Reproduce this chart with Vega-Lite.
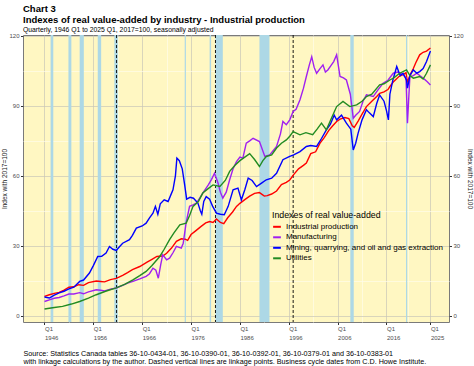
{
  "$schema": "https://vega.github.io/schema/vega-lite/v6.json",
  "width": 426,
  "height": 287,
  "autosize": {"type": "none"},
  "padding": {"left": 23, "top": 35, "right": 25, "bottom": 44},
  "background": "white",
  "config": {
    "font": "Liberation Sans",
    "view": {"fill": "#FFF7C2", "stroke": "#7a7a7a", "strokeWidth": 1}
  },
  "title": {
    "text": ["Chart 3", "Indexes of real value-added by industry - Industrial production"],
    "subtitle": "Quarterly, 1946 Q1 to 2025 Q1, 2017=100, seasonally adjusted",
    "anchor": "start",
    "frame": "group",
    "fontSize": 9.5,
    "fontWeight": "bold",
    "lineHeight": 11,
    "color": "black",
    "subtitleFontSize": 6.8,
    "subtitleColor": "black",
    "subtitlePadding": 3,
    "offset": -1
  },
  "datasets": {
    "bands": [
      {"t": 1947.25, "t2": 1947.8}, {"t": 1950.9, "t2": 1951.5}, {"t": 1953.2, "t2": 1954.05},
      {"t": 1956.9, "t2": 1957.6}, {"t": 1960.3, "t2": 1961.0}, {"t": 1974.7, "t2": 1974.95},
      {"t": 1979.8, "t2": 1980.1}, {"t": 1981.0, "t2": 1982.5}, {"t": 1990.0, "t2": 1992.05},
      {"t": 2008.6, "t2": 2009.3}, {"t": 2020.0, "t2": 2020.25}
    ],
    "links": [{"t": 1960.75}, {"t": 1981.0}, {"t": 1996.9}],
    "series": [
      {"t":1946.0,"s":"IP","v":8.3},{"t":1947.0,"s":"IP","v":9.0},{"t":1948.0,"s":"IP","v":9.6},{"t":1949.0,"s":"IP","v":10.0},{"t":1950.0,"s":"IP","v":11.0},{"t":1951.0,"s":"IP","v":12.2},{"t":1952.0,"s":"IP","v":12.4},{"t":1953.0,"s":"IP","v":13.3},{"t":1954.0,"s":"IP","v":13.0},{"t":1955.0,"s":"IP","v":14.2},{"t":1956.6,"s":"IP","v":14.9},{"t":1957.5,"s":"IP","v":14.7},{"t":1958.3,"s":"IP","v":14.5},{"t":1959.5,"s":"IP","v":15.5},{"t":1960.7,"s":"IP","v":16.0},{"t":1962.0,"s":"IP","v":17.3},{"t":1963.0,"s":"IP","v":18.5},{"t":1964.0,"s":"IP","v":19.8},{"t":1965.5,"s":"IP","v":21.1},{"t":1967.0,"s":"IP","v":23.0},{"t":1968.0,"s":"IP","v":24.2},{"t":1969.0,"s":"IP","v":25.4},{"t":1970.2,"s":"IP","v":25.6},{"t":1971.0,"s":"IP","v":26.8},{"t":1972.0,"s":"IP","v":29.0},{"t":1973.0,"s":"IP","v":31.9},{"t":1974.0,"s":"IP","v":33.0},{"t":1974.8,"s":"IP","v":32.8},{"t":1975.3,"s":"IP","v":32.3},{"t":1976.0,"s":"IP","v":34.8},{"t":1977.0,"s":"IP","v":36.5},{"t":1978.0,"s":"IP","v":38.2},{"t":1979.0,"s":"IP","v":39.8},{"t":1979.8,"s":"IP","v":40.4},{"t":1980.5,"s":"IP","v":40.0},{"t":1981.2,"s":"IP","v":41.5},{"t":1982.0,"s":"IP","v":40.0},{"t":1982.7,"s":"IP","v":39.5},{"t":1983.5,"s":"IP","v":42.0},{"t":1984.5,"s":"IP","v":44.5},{"t":1985.3,"s":"IP","v":46.9},{"t":1986.0,"s":"IP","v":48.2},{"t":1987.0,"s":"IP","v":49.8},{"t":1988.0,"s":"IP","v":51.3},{"t":1989.0,"s":"IP","v":52.5},{"t":1990.0,"s":"IP","v":52.8},{"t":1991.0,"s":"IP","v":51.3},{"t":1991.6,"s":"IP","v":51.5},{"t":1992.5,"s":"IP","v":52.2},{"t":1993.5,"s":"IP","v":53.5},{"t":1994.5,"s":"IP","v":56.2},{"t":1995.5,"s":"IP","v":57.2},{"t":1996.2,"s":"IP","v":58.2},{"t":1997.0,"s":"IP","v":60.5},{"t":1998.0,"s":"IP","v":63.0},{"t":1999.0,"s":"IP","v":64.5},{"t":1999.6,"s":"IP","v":65.5},{"t":2000.5,"s":"IP","v":69.5},{"t":2001.5,"s":"IP","v":70.3},{"t":2002.4,"s":"IP","v":74.0},{"t":2003.3,"s":"IP","v":76.5},{"t":2004.2,"s":"IP","v":79.5},{"t":2005.0,"s":"IP","v":81.5},{"t":2005.8,"s":"IP","v":83.3},{"t":2006.5,"s":"IP","v":84.3},{"t":2007.5,"s":"IP","v":85.0},{"t":2008.3,"s":"IP","v":84.5},{"t":2009.0,"s":"IP","v":81.5},{"t":2009.4,"s":"IP","v":80.8},{"t":2010.2,"s":"IP","v":83.5},{"t":2011.0,"s":"IP","v":86.5},{"t":2011.9,"s":"IP","v":89.7},{"t":2013.0,"s":"IP","v":92.0},{"t":2014.0,"s":"IP","v":94.0},{"t":2014.6,"s":"IP","v":95.4},{"t":2015.5,"s":"IP","v":96.0},{"t":2016.3,"s":"IP","v":97.0},{"t":2016.7,"s":"IP","v":98.3},{"t":2017.5,"s":"IP","v":100.5},{"t":2018.5,"s":"IP","v":102.5},{"t":2019.5,"s":"IP","v":103.5},{"t":2020.0,"s":"IP","v":104.2},{"t":2020.3,"s":"IP","v":100.0},{"t":2020.6,"s":"IP","v":102.0},{"t":2021.0,"s":"IP","v":104.0},{"t":2021.5,"s":"IP","v":106.0},{"t":2022.0,"s":"IP","v":108.5},{"t":2022.8,"s":"IP","v":111.9},{"t":2023.5,"s":"IP","v":113.0},{"t":2024.2,"s":"IP","v":113.5},{"t":2025.0,"s":"IP","v":114.8},

      {"t":1946.0,"s":"MFG","v":6.1},{"t":1947.0,"s":"MFG","v":6.8},{"t":1948.0,"s":"MFG","v":7.5},{"t":1949.0,"s":"MFG","v":7.8},{"t":1950.0,"s":"MFG","v":8.5},{"t":1951.0,"s":"MFG","v":9.3},{"t":1952.0,"s":"MFG","v":9.3},{"t":1953.2,"s":"MFG","v":9.9},{"t":1954.0,"s":"MFG","v":9.4},{"t":1955.0,"s":"MFG","v":10.2},{"t":1956.6,"s":"MFG","v":11.1},{"t":1957.5,"s":"MFG","v":10.9},{"t":1958.3,"s":"MFG","v":10.6},{"t":1959.5,"s":"MFG","v":11.4},{"t":1960.7,"s":"MFG","v":11.9},{"t":1962.0,"s":"MFG","v":13.0},{"t":1963.0,"s":"MFG","v":14.0},{"t":1964.1,"s":"MFG","v":14.7},{"t":1965.5,"s":"MFG","v":15.8},{"t":1966.8,"s":"MFG","v":16.9},{"t":1967.5,"s":"MFG","v":18.0},{"t":1968.2,"s":"MFG","v":20.4},{"t":1968.8,"s":"MFG","v":19.5},{"t":1969.3,"s":"MFG","v":16.1},{"t":1969.8,"s":"MFG","v":22.0},{"t":1970.2,"s":"MFG","v":26.1},{"t":1971.0,"s":"MFG","v":24.0},{"t":1971.6,"s":"MFG","v":24.7},{"t":1972.3,"s":"MFG","v":27.0},{"t":1973.0,"s":"MFG","v":29.7},{"t":1974.0,"s":"MFG","v":29.0},{"t":1974.4,"s":"MFG","v":31.1},{"t":1975.0,"s":"MFG","v":40.0},{"t":1975.7,"s":"MFG","v":46.9},{"t":1976.4,"s":"MFG","v":47.5},{"t":1977.1,"s":"MFG","v":48.3},{"t":1977.8,"s":"MFG","v":50.5},{"t":1978.4,"s":"MFG","v":52.6},{"t":1979.5,"s":"MFG","v":56.0},{"t":1980.2,"s":"MFG","v":58.5},{"t":1980.8,"s":"MFG","v":61.1},{"t":1981.5,"s":"MFG","v":57.0},{"t":1982.0,"s":"MFG","v":53.0},{"t":1982.5,"s":"MFG","v":50.4},{"t":1983.2,"s":"MFG","v":53.0},{"t":1983.9,"s":"MFG","v":58.3},{"t":1984.6,"s":"MFG","v":63.0},{"t":1985.3,"s":"MFG","v":66.1},{"t":1986.0,"s":"MFG","v":68.0},{"t":1986.6,"s":"MFG","v":67.6},{"t":1987.3,"s":"MFG","v":74.0},{"t":1988.0,"s":"MFG","v":75.0},{"t":1988.7,"s":"MFG","v":76.1},{"t":1990.0,"s":"MFG","v":74.7},{"t":1991.1,"s":"MFG","v":68.3},{"t":1992.1,"s":"MFG","v":69.0},{"t":1993.5,"s":"MFG","v":72.6},{"t":1994.3,"s":"MFG","v":78.0},{"t":1994.8,"s":"MFG","v":83.3},{"t":1995.5,"s":"MFG","v":81.9},{"t":1996.2,"s":"MFG","v":84.0},{"t":1996.9,"s":"MFG","v":87.6},{"t":1997.5,"s":"MFG","v":88.5},{"t":1998.3,"s":"MFG","v":92.6},{"t":1999.0,"s":"MFG","v":97.5},{"t":1999.6,"s":"MFG","v":102.6},{"t":2000.2,"s":"MFG","v":107.5},{"t":2000.7,"s":"MFG","v":111.1},{"t":2001.2,"s":"MFG","v":106.5},{"t":2001.7,"s":"MFG","v":104.0},{"t":2002.4,"s":"MFG","v":106.0},{"t":2003.0,"s":"MFG","v":107.6},{"t":2003.5,"s":"MFG","v":104.5},{"t":2004.0,"s":"MFG","v":105.4},{"t":2004.7,"s":"MFG","v":107.5},{"t":2005.2,"s":"MFG","v":109.0},{"t":2005.8,"s":"MFG","v":111.9},{"t":2006.5,"s":"MFG","v":102.6},{"t":2007.2,"s":"MFG","v":102.0},{"t":2007.8,"s":"MFG","v":101.1},{"t":2008.6,"s":"MFG","v":95.0},{"t":2009.2,"s":"MFG","v":84.7},{"t":2009.7,"s":"MFG","v":86.0},{"t":2010.5,"s":"MFG","v":87.6},{"t":2011.2,"s":"MFG","v":92.0},{"t":2011.9,"s":"MFG","v":94.7},{"t":2013.3,"s":"MFG","v":94.0},{"t":2014.3,"s":"MFG","v":97.0},{"t":2015.3,"s":"MFG","v":99.7},{"t":2016.3,"s":"MFG","v":101.0},{"t":2017.4,"s":"MFG","v":104.0},{"t":2018.3,"s":"MFG","v":104.5},{"t":2019.4,"s":"MFG","v":103.3},{"t":2020.0,"s":"MFG","v":102.0},{"t":2020.3,"s":"MFG","v":82.6},{"t":2020.6,"s":"MFG","v":95.0},{"t":2020.8,"s":"MFG","v":102.6},{"t":2021.5,"s":"MFG","v":103.0},{"t":2022.2,"s":"MFG","v":104.0},{"t":2022.8,"s":"MFG","v":103.0},{"t":2023.5,"s":"MFG","v":101.9},{"t":2024.3,"s":"MFG","v":100.5},{"t":2025.0,"s":"MFG","v":99.0},

      {"t":1946.0,"s":"MIN","v":8.0},{"t":1947.0,"s":"MIN","v":7.6},{"t":1948.0,"s":"MIN","v":8.8},{"t":1949.0,"s":"MIN","v":9.8},{"t":1950.0,"s":"MIN","v":10.5},{"t":1951.0,"s":"MIN","v":11.5},{"t":1952.0,"s":"MIN","v":12.2},{"t":1953.2,"s":"MIN","v":14.7},{"t":1954.0,"s":"MIN","v":15.3},{"t":1955.2,"s":"MIN","v":18.3},{"t":1956.0,"s":"MIN","v":21.5},{"t":1956.9,"s":"MIN","v":25.4},{"t":1957.7,"s":"MIN","v":25.5},{"t":1958.6,"s":"MIN","v":26.9},{"t":1959.3,"s":"MIN","v":29.7},{"t":1960.0,"s":"MIN","v":28.5},{"t":1960.7,"s":"MIN","v":28.0},{"t":1961.3,"s":"MIN","v":29.5},{"t":1962.0,"s":"MIN","v":31.1},{"t":1963.4,"s":"MIN","v":32.6},{"t":1964.0,"s":"MIN","v":34.5},{"t":1964.8,"s":"MIN","v":37.6},{"t":1966.0,"s":"MIN","v":38.5},{"t":1966.8,"s":"MIN","v":39.7},{"t":1967.5,"s":"MIN","v":42.0},{"t":1968.2,"s":"MIN","v":44.0},{"t":1968.7,"s":"MIN","v":46.9},{"t":1969.2,"s":"MIN","v":43.5},{"t":1969.7,"s":"MIN","v":48.0},{"t":1970.5,"s":"MIN","v":49.7},{"t":1971.3,"s":"MIN","v":49.0},{"t":1971.8,"s":"MIN","v":51.5},{"t":1972.3,"s":"MIN","v":54.0},{"t":1972.8,"s":"MIN","v":60.0},{"t":1973.1,"s":"MIN","v":67.6},{"t":1973.6,"s":"MIN","v":66.5},{"t":1974.2,"s":"MIN","v":63.0},{"t":1974.7,"s":"MIN","v":56.0},{"t":1975.1,"s":"MIN","v":50.0},{"t":1975.8,"s":"MIN","v":50.8},{"t":1976.5,"s":"MIN","v":50.4},{"t":1977.4,"s":"MIN","v":48.3},{"t":1977.9,"s":"MIN","v":45.0},{"t":1978.2,"s":"MIN","v":43.5},{"t":1978.6,"s":"MIN","v":49.0},{"t":1979.1,"s":"MIN","v":51.1},{"t":1979.8,"s":"MIN","v":50.0},{"t":1980.4,"s":"MIN","v":47.0},{"t":1981.2,"s":"MIN","v":44.0},{"t":1982.0,"s":"MIN","v":43.5},{"t":1982.8,"s":"MIN","v":43.3},{"t":1983.6,"s":"MIN","v":46.9},{"t":1984.6,"s":"MIN","v":54.0},{"t":1985.6,"s":"MIN","v":54.7},{"t":1986.3,"s":"MIN","v":49.7},{"t":1987.0,"s":"MIN","v":54.0},{"t":1987.7,"s":"MIN","v":59.0},{"t":1988.5,"s":"MIN","v":58.0},{"t":1989.4,"s":"MIN","v":55.4},{"t":1990.5,"s":"MIN","v":57.0},{"t":1991.4,"s":"MIN","v":58.3},{"t":1992.5,"s":"MIN","v":59.0},{"t":1993.5,"s":"MIN","v":61.1},{"t":1994.8,"s":"MIN","v":66.9},{"t":1996.2,"s":"MIN","v":68.3},{"t":1997.0,"s":"MIN","v":69.0},{"t":1998.3,"s":"MIN","v":70.4},{"t":1999.6,"s":"MIN","v":72.6},{"t":2000.5,"s":"MIN","v":73.0},{"t":2001.7,"s":"MIN","v":72.6},{"t":2002.7,"s":"MIN","v":76.0},{"t":2003.7,"s":"MIN","v":79.7},{"t":2004.5,"s":"MIN","v":82.0},{"t":2005.3,"s":"MIN","v":86.0},{"t":2005.8,"s":"MIN","v":84.0},{"t":2006.8,"s":"MIN","v":86.0},{"t":2007.8,"s":"MIN","v":82.6},{"t":2008.7,"s":"MIN","v":80.0},{"t":2009.2,"s":"MIN","v":71.1},{"t":2009.7,"s":"MIN","v":74.0},{"t":2010.2,"s":"MIN","v":78.3},{"t":2011.0,"s":"MIN","v":84.0},{"t":2011.9,"s":"MIN","v":88.3},{"t":2012.5,"s":"MIN","v":87.0},{"t":2013.3,"s":"MIN","v":85.4},{"t":2014.0,"s":"MIN","v":91.0},{"t":2014.6,"s":"MIN","v":94.7},{"t":2015.5,"s":"MIN","v":92.0},{"t":2016.0,"s":"MIN","v":88.0},{"t":2016.4,"s":"MIN","v":84.0},{"t":2016.7,"s":"MIN","v":95.0},{"t":2017.3,"s":"MIN","v":101.0},{"t":2018.1,"s":"MIN","v":106.9},{"t":2018.8,"s":"MIN","v":103.0},{"t":2019.4,"s":"MIN","v":104.0},{"t":2020.1,"s":"MIN","v":101.0},{"t":2020.3,"s":"MIN","v":97.6},{"t":2020.8,"s":"MIN","v":103.0},{"t":2021.5,"s":"MIN","v":105.4},{"t":2022.2,"s":"MIN","v":104.0},{"t":2022.8,"s":"MIN","v":104.7},{"t":2023.5,"s":"MIN","v":106.0},{"t":2024.2,"s":"MIN","v":109.0},{"t":2025.0,"s":"MIN","v":113.5},

      {"t":1946.0,"s":"UTL","v":2.9},{"t":1948.0,"s":"UTL","v":3.5},{"t":1949.7,"s":"UTL","v":4.0},{"t":1951.5,"s":"UTL","v":5.0},{"t":1953.2,"s":"UTL","v":6.1},{"t":1955.0,"s":"UTL","v":7.5},{"t":1956.6,"s":"UTL","v":9.0},{"t":1958.5,"s":"UTL","v":10.5},{"t":1960.7,"s":"UTL","v":11.9},{"t":1962.5,"s":"UTL","v":13.5},{"t":1964.1,"s":"UTL","v":15.4},{"t":1965.5,"s":"UTL","v":17.2},{"t":1966.8,"s":"UTL","v":19.0},{"t":1968.0,"s":"UTL","v":21.5},{"t":1969.6,"s":"UTL","v":25.4},{"t":1970.5,"s":"UTL","v":28.5},{"t":1971.6,"s":"UTL","v":32.6},{"t":1972.5,"s":"UTL","v":35.5},{"t":1973.7,"s":"UTL","v":39.0},{"t":1975.0,"s":"UTL","v":39.7},{"t":1975.7,"s":"UTL","v":43.0},{"t":1976.4,"s":"UTL","v":46.9},{"t":1977.5,"s":"UTL","v":49.0},{"t":1978.4,"s":"UTL","v":52.6},{"t":1979.5,"s":"UTL","v":54.5},{"t":1980.5,"s":"UTL","v":56.1},{"t":1981.9,"s":"UTL","v":55.4},{"t":1983.0,"s":"UTL","v":58.0},{"t":1983.9,"s":"UTL","v":61.9},{"t":1985.0,"s":"UTL","v":64.5},{"t":1986.0,"s":"UTL","v":66.5},{"t":1987.0,"s":"UTL","v":68.0},{"t":1988.0,"s":"UTL","v":69.5},{"t":1989.0,"s":"UTL","v":67.0},{"t":1990.0,"s":"UTL","v":64.0},{"t":1990.7,"s":"UTL","v":66.5},{"t":1991.4,"s":"UTL","v":68.3},{"t":1992.5,"s":"UTL","v":69.0},{"t":1993.5,"s":"UTL","v":71.9},{"t":1994.5,"s":"UTL","v":74.0},{"t":1995.5,"s":"UTL","v":75.4},{"t":1996.2,"s":"UTL","v":77.0},{"t":1996.9,"s":"UTL","v":79.0},{"t":1998.3,"s":"UTL","v":77.6},{"t":1999.5,"s":"UTL","v":78.5},{"t":2000.9,"s":"UTL","v":77.6},{"t":2001.8,"s":"UTL","v":80.0},{"t":2002.7,"s":"UTL","v":82.6},{"t":2003.7,"s":"UTL","v":79.7},{"t":2004.8,"s":"UTL","v":85.0},{"t":2005.8,"s":"UTL","v":89.7},{"t":2007.1,"s":"UTL","v":91.9},{"t":2008.5,"s":"UTL","v":89.7},{"t":2009.9,"s":"UTL","v":90.4},{"t":2011.0,"s":"UTL","v":92.0},{"t":2011.9,"s":"UTL","v":94.0},{"t":2013.0,"s":"UTL","v":95.0},{"t":2014.6,"s":"UTL","v":99.0},{"t":2015.5,"s":"UTL","v":99.5},{"t":2016.7,"s":"UTL","v":101.1},{"t":2017.5,"s":"UTL","v":102.0},{"t":2018.7,"s":"UTL","v":104.0},{"t":2020.1,"s":"UTL","v":105.4},{"t":2020.8,"s":"UTL","v":103.0},{"t":2021.5,"s":"UTL","v":101.9},{"t":2022.8,"s":"UTL","v":102.6},{"t":2023.5,"s":"UTL","v":101.5},{"t":2024.2,"s":"UTL","v":104.0},{"t":2025.0,"s":"UTL","v":107.6}
    ]
  },
  "encoding": {
    "x": {
      "field": "t",
      "type": "quantitative",
      "scale": {"domain": [1941.6, 2028.8], "nice": false, "zero": false},
      "axis": {
        "values": [1946, 1951, 1956, 1961, 1966, 1971, 1976, 1981, 1986, 1991, 1996, 2001, 2006, 2011, 2016, 2020.5, 2025],
        "labelExpr": "indexof([1946,1956,1966,1976,1986,1996,2006,2016,2025], datum.value) >= 0 ? ['Q1', format(datum.value, 'd')] : ''",
        "labelOverlap": false,
        "labelFlush": false,
        "labelBound": false,
        "labelAlign": "left",
        "labelBaseline": "top",
        "labelFontSize": 6,
        "labelColor": "#4D4D4D",
        "labelLineHeight": 8.5,
        "labelPadding": 1,
        "tickSize": 2.5,
        "tickColor": "#333333",
        "tickOpacity": {"condition": {"test": "indexof([1946,1956,1966,1976,1986,1996,2006,2016,2025], datum.value) >= 0", "value": 1}, "value": 0},
        "gridColor": {"condition": {"test": "indexof([1946,1956,1966,1976,1986,1996,2006,2016,2025], datum.value) >= 0", "value": "#C8C6B8"}, "value": "#FFFCEA"},
        "gridWidth": 0.7,
        "domain": false,
        "title": ["Source: Statistics Canada tables 36-10-0434-01, 36-10-0390-01, 36-10-0392-01, 36-10-0379-01 and 36-10-0383-01", "with linkage calculations by the author. Dashed vertical lines are linkage points. Business cycle dates from C.D. Howe Institute."],
        "titleFontSize": 7.2,
        "titleFontWeight": "normal",
        "titleColor": "black",
        "titleAnchor": "start",
        "titleAlign": "left",
        "titleBaseline": "top",
        "titleLineHeight": 8,
        "titlePadding": 9
      }
    }
  },
  "layer": [
    {
      "data": {"name": "bands"},
      "mark": {"type": "rect", "color": "#ADD8E6", "opacity": 1},
      "encoding": {"x2": {"field": "t2"}}
    },
    {
      "data": {"name": "links"},
      "mark": {"type": "rule", "color": "black", "strokeDash": [3, 2], "strokeWidth": 0.9},
      "encoding": {}
    },
    {
      "data": {"name": "series"},
      "mark": {"type": "line", "strokeWidth": 1.4},
      "encoding": {
        "y": {
          "field": "v",
          "type": "quantitative",
          "scale": {"domain": [-2.7, 120.4], "nice": false, "zero": false},
          "axis": {
            "orient": "left",
            "values": [0, 15, 30, 45, 60, 75, 90, 105, 120],
            "labelExpr": "datum.value % 30 === 0 ? datum.label : ''",
            "labelOverlap": false,
            "labelFlush": false,
            "labelFontSize": 6,
            "labelColor": "#4D4D4D",
            "labelPadding": 1.5,
            "tickSize": 2.5,
            "tickColor": "#333333",
            "tickOpacity": {"condition": {"test": "datum.value % 30 === 0", "value": 1}, "value": 0},
            "gridColor": {"condition": {"test": "datum.value % 30 === 0", "value": "#C8C6B8"}, "value": "#FFFCEA"},
            "gridWidth": 0.7,
            "domain": false,
            "title": "Index with 2017=100",
            "titleFontSize": 6.5,
            "titleFontWeight": "normal",
            "titleColor": "#1a1a1a",
            "titlePadding": 1
          }
        },
        "color": {
          "field": "s",
          "type": "nominal",
          "scale": {"domain": ["IP", "MFG", "MIN", "UTL"], "range": ["#FF0000", "#A020F0", "#0000FF", "#228B22"]},
          "legend": {
            "orient": "none",
            "legendX": 249,
            "legendY": 176,
            "title": "Indexes of real value-added",
            "titleFontSize": 8.8,
            "titleFontWeight": "normal",
            "titleColor": "black",
            "titlePadding": 2,
            "labelExpr": "datum.label === 'IP' ? 'Industrial production' : datum.label === 'MFG' ? 'Manufacturing' : datum.label === 'MIN' ? 'Mining, quarrying, and oil and gas extraction' : 'Utilities'",
            "labelFontSize": 8,
            "labelColor": "black",
            "labelLimit": 300,
            "labelOffset": 4,
            "symbolType": "stroke",
            "symbolStrokeWidth": 2,
            "symbolSize": 60,
            "rowPadding": 1.5
          }
        }
      }
    },
    {
      "data": {"name": "series"},
      "mark": {"type": "line", "opacity": 0},
      "encoding": {
        "y": {
          "field": "v",
          "type": "quantitative",
          "axis": {
            "orient": "right",
            "values": [0, 30, 60, 90, 120],
            "grid": false,
            "labelFontSize": 6,
            "labelColor": "#4D4D4D",
            "labelPadding": 1.5,
            "tickSize": 2.5,
            "tickColor": "#333333",
            "domain": false,
            "title": "Index with 2017=100",
            "titleFontSize": 6.5,
            "titleFontWeight": "normal",
            "titleColor": "#1a1a1a",
            "titlePadding": 3
          }
        }
      }
    }
  ],
  "resolve": {"axis": {"y": "independent"}}
}
